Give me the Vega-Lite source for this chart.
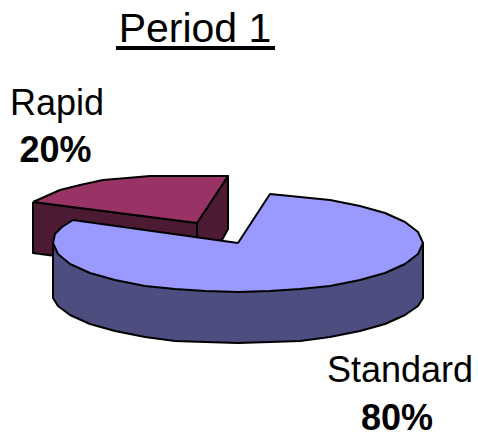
{"$schema":"https://vega.github.io/schema/vega-lite/v6.json","width":478,"height":434,"padding":0,"autosize":{"type":"none"},"background":"white","view":{"stroke":null},
"datasets":{"outline":[
{"part":"Rapid wall front","n":1,"x":33,"y":202},{"part":"Rapid wall front","n":2,"x":197,"y":223},{"part":"Rapid wall front","n":3,"x":197,"y":275},{"part":"Rapid wall front","n":4,"x":33,"y":253},{"part":"Rapid wall front","n":5,"x":33,"y":202},
{"part":"Rapid wall side","n":1,"x":197,"y":223},{"part":"Rapid wall side","n":2,"x":228,"y":176},{"part":"Rapid wall side","n":3,"x":228,"y":229},{"part":"Rapid wall side","n":4,"x":222,"y":240},{"part":"Rapid wall side","n":5,"x":197,"y":262},{"part":"Rapid wall side","n":6,"x":197,"y":223},
{"part":"Rapid top","n":1,"x":33,"y":202},{"part":"Rapid top","n":2,"x":60,"y":190},{"part":"Rapid top","n":3,"x":80,"y":185},{"part":"Rapid top","n":4,"x":103,"y":180},{"part":"Rapid top","n":5,"x":127,"y":178},{"part":"Rapid top","n":6,"x":150,"y":176},{"part":"Rapid top","n":7,"x":228,"y":176},{"part":"Rapid top","n":8,"x":197,"y":223},{"part":"Rapid top","n":9,"x":33,"y":202},
{"part":"Standard wall","n":1,"x":423,"y":243},{"part":"Standard wall","n":2,"x":423,"y":298},{"part":"Standard wall","n":3,"x":418,"y":306},{"part":"Standard wall","n":4,"x":405,"y":315},{"part":"Standard wall","n":5,"x":385,"y":324},{"part":"Standard wall","n":6,"x":360,"y":331},{"part":"Standard wall","n":7,"x":330,"y":337},{"part":"Standard wall","n":8,"x":300,"y":341},{"part":"Standard wall","n":9,"x":270,"y":342},{"part":"Standard wall","n":10,"x":238,"y":343},{"part":"Standard wall","n":11,"x":205,"y":342},{"part":"Standard wall","n":12,"x":175,"y":341},{"part":"Standard wall","n":13,"x":145,"y":337},{"part":"Standard wall","n":14,"x":115,"y":331},{"part":"Standard wall","n":15,"x":90,"y":324},{"part":"Standard wall","n":16,"x":70,"y":315},{"part":"Standard wall","n":17,"x":58,"y":306},{"part":"Standard wall","n":18,"x":53,"y":298},{"part":"Standard wall","n":19,"x":53,"y":243},{"part":"Standard wall","n":20,"x":423,"y":243},
{"part":"Standard top","n":1,"x":238,"y":243},{"part":"Standard top","n":2,"x":270,"y":194},{"part":"Standard top","n":3,"x":300,"y":197},{"part":"Standard top","n":4,"x":330,"y":200},{"part":"Standard top","n":5,"x":360,"y":206},{"part":"Standard top","n":6,"x":385,"y":213},{"part":"Standard top","n":7,"x":405,"y":222},{"part":"Standard top","n":8,"x":418,"y":232},{"part":"Standard top","n":9,"x":423,"y":243},{"part":"Standard top","n":10,"x":418,"y":254},{"part":"Standard top","n":11,"x":405,"y":264},{"part":"Standard top","n":12,"x":385,"y":273},{"part":"Standard top","n":13,"x":360,"y":280},{"part":"Standard top","n":14,"x":330,"y":286},{"part":"Standard top","n":15,"x":300,"y":289},{"part":"Standard top","n":16,"x":270,"y":291},{"part":"Standard top","n":17,"x":238,"y":292},{"part":"Standard top","n":18,"x":205,"y":291},{"part":"Standard top","n":19,"x":175,"y":289},{"part":"Standard top","n":20,"x":145,"y":286},{"part":"Standard top","n":21,"x":115,"y":280},{"part":"Standard top","n":22,"x":90,"y":273},{"part":"Standard top","n":23,"x":70,"y":264},{"part":"Standard top","n":24,"x":58,"y":254},{"part":"Standard top","n":25,"x":53,"y":243},{"part":"Standard top","n":26,"x":55,"y":234},{"part":"Standard top","n":27,"x":62,"y":227},{"part":"Standard top","n":28,"x":73,"y":220},{"part":"Standard top","n":29,"x":238,"y":243}
]},
"layer":[
{"data":{"name":"outline"},"mark":{"type":"line","stroke":"black","strokeWidth":2,"strokeJoin":"round","opacity":1,"fillOpacity":1},
"encoding":{"x":{"field":"x","type":"quantitative","scale":{"domain":[0,478]},"axis":null},"y":{"field":"y","type":"quantitative","scale":{"domain":[434,0]},"axis":null},"order":{"field":"n"},"fill":{"field":"part","type":"nominal","legend":null,"scale":{"domain":["Rapid wall front","Rapid wall side","Rapid top","Standard wall","Standard top"],"range":["#4D1A33","#4D1A33","#993366","#4D4D80","#9999FF"]}}}},
{"data":{"values":[{"x":116,"x2":275,"y":48}]},"mark":{"type":"rule","stroke":"black","strokeWidth":4},"encoding":{"x":{"field":"x","type":"quantitative","scale":{"domain":[0,478]},"axis":null},"x2":{"field":"x2"},"y":{"field":"y","type":"quantitative","scale":{"domain":[434,0]},"axis":null}}},
{"data":{"values":[{"t":"Period 1","x":195,"y":42}]},"mark":{"type":"text","font":"Liberation Sans","fontSize":41,"align":"center","baseline":"alphabetic","color":"black"},"encoding":{"text":{"field":"t"},"x":{"field":"x","type":"quantitative","scale":{"domain":[0,478]},"axis":null},"y":{"field":"y","type":"quantitative","scale":{"domain":[434,0]},"axis":null}}},
{"data":{"values":[{"t":"Rapid","x":57,"y":115},{"t":"Standard","x":400,"y":382}]},"mark":{"type":"text","font":"Liberation Sans","fontSize":36,"align":"center","baseline":"alphabetic","color":"black"},"encoding":{"text":{"field":"t"},"x":{"field":"x","type":"quantitative","scale":{"domain":[0,478]},"axis":null},"y":{"field":"y","type":"quantitative","scale":{"domain":[434,0]},"axis":null}}},
{"data":{"values":[{"t":"20%","x":55.5,"y":162},{"t":"80%","x":397,"y":430}]},"mark":{"type":"text","font":"Liberation Sans","fontSize":36,"fontWeight":"bold","align":"center","baseline":"alphabetic","color":"black"},"encoding":{"text":{"field":"t"},"x":{"field":"x","type":"quantitative","scale":{"domain":[0,478]},"axis":null},"y":{"field":"y","type":"quantitative","scale":{"domain":[434,0]},"axis":null}}}
]}
